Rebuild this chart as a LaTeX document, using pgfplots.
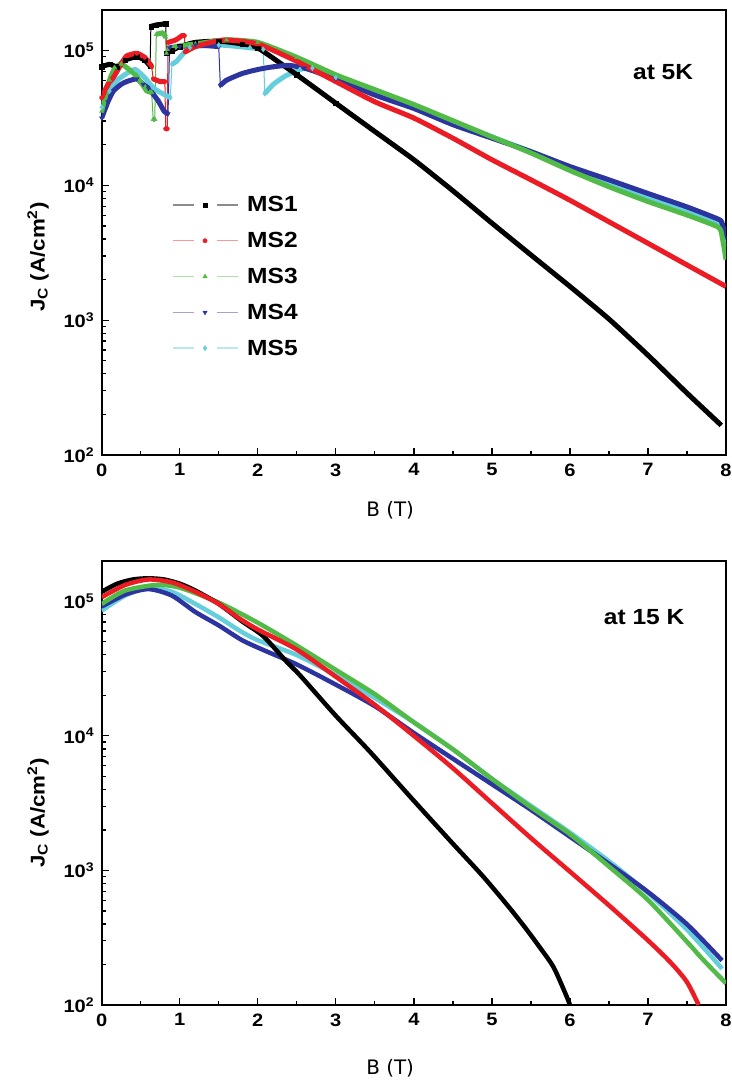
\documentclass[border=0pt]{standalone}
\usepackage{pgfplots}
\pgfplotsset{compat=1.18}
\usepackage{pgfplotstable}
\usepackage{fontspec}
\setmainfont{Liberation Sans}[FakeStretch=1.12]
\newfontfamily\labelfont{DejaVu Sans}

\definecolor{cMSa}{RGB}{0,0,0}
\definecolor{cMSb}{RGB}{236,28,36}
\definecolor{cMSc}{RGB}{82,186,70}
\definecolor{cMSd}{RGB}{44,52,160}
\definecolor{cMSe}{RGB}{100,206,220}

% ---------- 5 K data ----------
\pgfplotstableread{
B J
0 75900
0.1 79000
0.2 76000
0.3 85000
0.45 90000
0.55 85000
0.62 77000
0.625 nan
0.63 151000
0.7 155000
0.82 158000
0.825 nan
0.83 95500
0.9 100000
1.0 107000
1.2 115000
1.5 117500
1.8 112000
2.0 104700
2.5 66100
3.0 40700
3.5 25100
4.0 15500
4.5 9120
5.0 5250
5.5 3050
6.0 1780
6.5 1020
7.0 550
7.5 288
7.94 166
}\tAa
\pgfplotstableread{
B J
0 44700
0.08 56200
0.15 63100
0.25 79400
0.32 91200
0.45 95500
0.55 89100
0.62 79400
0.64 75900
0.65 nan
0.66 61700
0.75 58900
0.81 58900
0.815 nan
0.82 26300
0.84 26300
0.845 nan
0.85 115000
0.95 120000
1.03 129000
1.06 129000
1.065 nan
1.07 97700
1.2 107000
1.4 115000
1.6 120000
2.0 112000
2.5 83200
3.0 58900
3.5 41700
4.0 31600
4.5 22400
5.0 15500
5.5 11000
6.0 7760
6.5 5370
7.0 3720
7.5 2570
8.0 1780
}\tAb
\pgfplotstableread{
B J
0 35500
0.1 60300
0.17 74100
0.25 79400
0.33 74100
0.43 66100
0.52 56200
0.58 50100
0.64 49000
0.65 nan
0.66 30900
0.68 30900
0.69 nan
0.70 132000
0.78 135000
0.82 126000
0.825 nan
0.83 95500
0.95 107000
1.2 112000
1.6 120000
2.0 115000
2.5 89100
3.0 66100
3.5 51300
4.0 39800
4.5 30200
5.0 22900
5.5 17400
6.0 12900
6.5 9770
7.0 7590
7.5 6030
7.9 4900
7.95 4170
8.0 2820
}\tAc
\pgfplotstableread{
B J
0 31600
0.08 41700
0.15 50100
0.25 56200
0.32 58900
0.45 61700
0.53 56200
0.6 52500
0.72 42700
0.8 35500
0.85 33900
0.86 nan
0.87 105000
1.0 107000
1.2 110000
1.5 107000
1.51 nan
1.52 55000
1.6 60300
1.8 67600
2.0 72400
2.2 75900
2.4 77600
2.6 74100
3.0 61700
3.5 46800
4.0 37200
4.5 28200
5.0 22400
5.5 17800
6.0 13800
6.5 11000
7.0 8710
7.5 6920
7.9 5620
7.95 5250
8.0 3980
}\tAd
\pgfplotstableread{
B J
0 38000
0.1 50100
0.2 60300
0.32 67600
0.43 72400
0.55 63100
0.65 53700
0.72 50100
0.88 44700
0.89 nan
0.90 79400
0.96 83200
1.13 105000
1.5 110000
1.9 105000
2.07 102000
2.08 nan
2.09 47900
2.2 56200
2.35 64600
2.54 72400
2.7 74100
3.0 63100
3.5 50100
4.0 38900
4.5 29500
5.0 22900
5.5 17800
6.0 13500
6.5 10500
7.0 8130
7.5 6460
7.9 5250
8.0 3550
}\tAe

% ---------- 15 K data ----------
\pgfplotstableread{
B J
0 117500
0.2 135000
0.4 145000
0.6 148000
0.8 145000
1.0 135000
1.2 120000
1.5 95500
1.8 70800
2.07 55000
2.37 35500
2.54 28200
3.0 14100
3.44 7590
3.98 3390
4.5 1580
4.88 912
5.2 550
5.42 380
5.6 275
5.79 191
5.96 115
6.0 100
}\tBa
\pgfplotstableread{
B J
0 107000
0.3 132000
0.6 145000
0.9 138000
1.2 117500
1.5 95500
1.77 74100
2.0 61700
2.5 43700
3.0 27500
3.5 17000
4.0 10000
4.5 5750
5.0 3160
5.5 1740
6.0 980
6.5 550
7.0 302
7.3 204
7.5 148
7.65 100
}\tBb
\pgfplotstableread{
B J
0 95500
0.3 120000
0.7 132000
1.0 126000
1.5 97700
2.0 69200
2.5 46800
3.0 30900
3.5 20400
4.0 12600
4.5 7940
5.0 4790
5.5 2950
6.0 1860
6.5 1070
7.0 603
7.5 295
7.7 219
8.0 145
}\tBc
\pgfplotstableread{
B J
0 91200
0.3 112000
0.6 123000
0.9 110000
1.2 83200
1.5 66100
1.8 51300
2.1 42700
2.5 33900
3.0 24000
3.5 16600
4.0 10500
4.5 6760
5.0 4370
5.5 2820
6.0 1780
6.5 1120
7.0 692
7.5 398
7.95 214
}\tBd
\pgfplotstableread{
B J
0 85100
0.3 110000
0.6 126000
0.9 117500
1.2 95500
1.5 75900
1.77 60300
2.0 51300
2.5 39800
3.0 28200
3.5 19100
4.0 12600
4.5 7940
5.0 4790
5.5 3020
6.0 1910
6.5 1170
7.0 680
7.5 363
7.95 186
}\tBe

\pgfplotsset{
  jthin/.style={line width=1bp, mark size=2.2bp, unbounded coords=discard},
  jthick/.style={line width=5bp, mark=none, unbounded coords=jump, forget plot, line join=round, smooth, tension=0.35},
  jfull/.style={line width=4.5bp, mark=none, line join=round, smooth, tension=0.45},
}

\begin{document}
\begin{tikzpicture}
\path[use as bounding box] (-101.7bp,10bp) rectangle (630.3bp,-1072bp);

% ================= 5 K =================
\begin{axis}[
  scale only axis, width=624.3bp, height=445bp, at={(0,0)}, anchor=north west,
  xmin=0, xmax=8, ymode=log, ymin=100, ymax=200000,
  xtick={0,1,2,3,4,5,6,7,8}, minor x tick num=1,
  xticklabels={0,1,2,3,4,5,6,7,8},
  ytick={100,1000,10000,100000},
  yticklabels={10\textsuperscript{2},10\textsuperscript{3},10\textsuperscript{4},10\textsuperscript{5}},
  minor ytick={200,300,400,500,600,700,800,900,2000,3000,4000,5000,6000,7000,8000,9000,20000,30000,40000,50000,60000,70000,80000,90000,200000},
  tick align=inside, xtick pos=left, ytick pos=left,
  major tick length=7bp, minor tick length=4.5bp,
  every tick/.style={black, line width=1.3bp},
  axis line style={line width=1.8bp},
  ticklabel style={font=\bfseries\fontsize{18}{18}\selectfont},
  xticklabel style={yshift=-5bp},
  yticklabel style={xshift=-4bp},
  ylabel={J\textsubscript{C} (A/cm\textsuperscript{2})},
  xlabel={B (T)},
  ylabel style={font=\bfseries\fontsize{20}{20}\selectfont, at={(axis description cs:-0.102,0.445)}, anchor=center},
  xlabel style={font=\labelfont\fontsize{20}{20}\selectfont, at={(axis description cs:0.462,0)}, anchor=center, yshift=-55bp},
  legend style={draw=none, fill=none, at={(axis description cs:0.112,0.401)}, anchor=west,
     inner sep=0pt, row sep=17bp, column sep=8bp,
     font=\bfseries\fontsize{22}{22}\selectfont, nodes={inner sep=1bp}},
  legend cell align=left,
  legend image code/.code={%
    \draw[#1, mark=none, line width=1.4bp, draw opacity=0.45] (0bp,0bp) -- (21bp,0bp) (44bp,0bp) -- (65bp,0bp);
    \draw[#1, only marks, mark indices={1}] plot coordinates {(32.5bp,0bp)};
  },
]
\addplot[jthin, color=cMSa, mark=square*, mark indices={1,2,3,4,5,6,7,8,9,10,11,12,13,14,15,16,17,18,19}, mark options={solid, line width=0.3bp}] table[x=B,y=J] {\tAa};
\addlegendentry{MS1}
\addplot[jthin, color=cMSb, mark=*, mark indices={1,2,3,4,5,6,7,8,9,10,11,12,13,14,15,16,17,18,19,20,21,22,23,24,25,26,27}, mark options={solid, line width=0.3bp}] table[x=B,y=J] {\tAb};
\addlegendentry{MS2}
\addplot[jthin, color=cMSc, mark=triangle*, mark indices={1,2,3,4,5,6,7,8,9,10,11,12,13,14,15,16,17,18,19,20,21,22}, mark options={solid, line width=0.3bp}, mark size=2.6bp] table[x=B,y=J] {\tAc};
\addlegendentry{MS3}
\addplot[jthin, color=cMSd, mark=triangle*, mark indices={1,2,3,4,5,6,7,8,9,10,11,12,13,14,15,16,17,18,19,20,21,22,23}, mark options={solid, rotate=180, line width=0.3bp}, mark size=2.6bp] table[x=B,y=J] {\tAd};
\addlegendentry{MS4}
\addplot[jthin, color=cMSe, mark=diamond*, mark indices={1,2,3,4,5,6,7,8,9,10,11,12,13,14,15,16,17,18,19,20,21}, mark options={solid, line width=0.3bp}, mark size=2.6bp] table[x=B,y=J] {\tAe};
\addlegendentry{MS5}

\addplot[jthick, color=cMSe] table[x=B,y=J] {\tAe};
\addplot[jthick, color=cMSa] table[x=B,y=J] {\tAa};
\addplot[jthick, color=cMSd] table[x=B,y=J] {\tAd};
\addplot[jthick, color=cMSc] table[x=B,y=J] {\tAc};
\addplot[jthick, color=cMSb] table[x=B,y=J] {\tAb};

\node[anchor=east, font=\bfseries\fontsize{22}{22}\selectfont] at (rel axis cs:0.953,0.86) {at 5K};
\end{axis}

% ================= 15 K =================
\begin{axis}[
  scale only axis, width=624.3bp, height=444.3bp, at={(0,-550.7bp)}, anchor=north west,
  xmin=0, xmax=8, ymode=log, ymin=100, ymax=200000,
  xtick={0,1,2,3,4,5,6,7,8}, minor x tick num=1,
  xticklabels={0,1,2,3,4,5,6,7,8},
  ytick={100,1000,10000,100000},
  yticklabels={10\textsuperscript{2},10\textsuperscript{3},10\textsuperscript{4},10\textsuperscript{5}},
  minor ytick={200,300,400,500,600,700,800,900,2000,3000,4000,5000,6000,7000,8000,9000,20000,30000,40000,50000,60000,70000,80000,90000,200000},
  tick align=inside, xtick pos=left, ytick pos=left,
  major tick length=7bp, minor tick length=4.5bp,
  every tick/.style={black, line width=1.3bp},
  axis line style={line width=1.8bp},
  ticklabel style={font=\bfseries\fontsize{18}{18}\selectfont},
  xticklabel style={yshift=-5bp},
  yticklabel style={xshift=-4bp},
  ylabel={J\textsubscript{C} (A/cm\textsuperscript{2})},
  xlabel={B (T)},
  ylabel style={font=\bfseries\fontsize{20}{20}\selectfont, at={(axis description cs:-0.102,0.432)}, anchor=center},
  xlabel style={font=\labelfont\fontsize{20}{20}\selectfont, at={(axis description cs:0.462,0)}, anchor=center, yshift=-63bp},
]
\addplot[jfull, color=cMSe] table[x=B,y=J] {\tBe};
\addplot[jfull, color=cMSd] table[x=B,y=J] {\tBd};
\addplot[jfull, color=cMSc] table[x=B,y=J] {\tBc};
\addplot[jfull, color=cMSa] table[x=B,y=J] {\tBa};
\addplot[jfull, color=cMSb] table[x=B,y=J] {\tBb};
\node[anchor=east, font=\bfseries\fontsize{22}{22}\selectfont] at (rel axis cs:0.939,0.873) {at 15 K};
\end{axis}
\end{tikzpicture}
\end{document}
